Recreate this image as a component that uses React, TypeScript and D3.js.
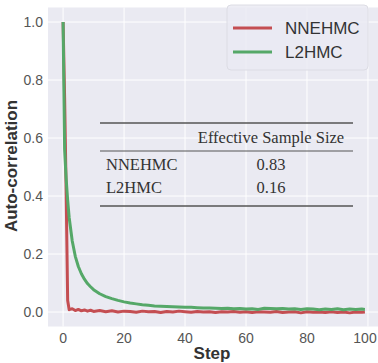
import React from "react";
import * as d3 from "d3";

// autocorrelation estimates per sampler, indexed by step
const steps = [0, 0.5, 1, 1.5, 2, 3, 4, 5, 6, 7, 8, 9, 10, 12, 14, 16, 18, 20, 22, 24, 26, 28, 30, 32, 34, 36, 38, 40, 42, 44, 46, 48, 50, 52, 54, 56, 58, 60, 62, 64, 66, 68, 70, 72, 74, 76, 78, 80, 82, 84, 86, 88, 90, 92, 94, 96, 98, 99];
const nnehmc = [1.0, 0.74, 0.42, 0.04, 0.008, 0.011, 0.005, 0.009, 0.004, 0.007, 0.003, 0.006, 0.002, 0.005, 0.001, 0.004, 0.0, 0.003, 0.002, -0.001, 0.003, 0.001, 0.002, -0.002, 0.002, 0.0, 0.003, 0.001, -0.001, 0.002, 0.0, 0.001, -0.002, 0.001, 0.0, 0.002, -0.001, 0.001, -0.002, 0.001, 0.0, -0.001, 0.002, -0.002, 0.0, 0.001, -0.003, 0.001, -0.001, 0.0, -0.002, 0.001, -0.002, 0.0, -0.003, 0.0, -0.001, 0.0];
const l2hmc = [1.0, 0.56, 0.46, 0.385, 0.325, 0.245, 0.192, 0.157, 0.132, 0.113, 0.098, 0.087, 0.077, 0.063, 0.053, 0.046, 0.04, 0.035, 0.031, 0.028, 0.025, 0.023, 0.021, 0.02, 0.019, 0.018, 0.017, 0.016, 0.016, 0.015, 0.014, 0.014, 0.013, 0.012, 0.013, 0.011, 0.012, 0.01, 0.011, 0.009, 0.013, 0.012, 0.011, 0.012, 0.01, 0.011, 0.009, 0.011, 0.01, 0.008, 0.01, 0.009, 0.011, 0.008, 0.01, 0.009, 0.01, 0.009];

const xTicks = [0, 20, 40, 60, 80, 100];
const yTicks = [0, 0.2, 0.4, 0.6, 0.8, 1.0];

const seriesNames = ["NNEHMC", "L2HMC"];
const seriesColors = ["#C44E52", "#55A868"];
const essValues = ["0.83", "0.16"];

const W = 378;
const H = 363;

export default function App() {
  const x = d3.scaleLinear().domain([-4.95, 103.95]).range([48, 380]);
  const y = d3.scaleLinear().domain([-0.05, 1.05]).range([326.5, 7.5]);

  const line = (vals: number[]) =>
    d3.line<number>()
      .x((_, i) => x(steps[i]))
      .y(d => y(d))(vals) as string;

  const sans = "'Liberation Sans', Arial, sans-serif";
  const serif = "'Liberation Serif', 'Times New Roman', serif";

  // table geometry
  const tL = 100, tR = 353, colC = 271;

  return (
    <svg width={W} height={H} style={{ position: "absolute", left: 0, top: 0 }}>
      <rect width={W} height={H} fill="#fff" />
      <rect x={x.range()[0]} y={y.range()[1]} width={x.range()[1] - x.range()[0]} height={y.range()[0] - y.range()[1]} fill="#EAEAF2" />

      {/* grid */}
      {xTicks.map(t => (
        <line key={"gx" + t} x1={x(t)} x2={x(t)} y1={y.range()[1]} y2={y.range()[0]} stroke="#fff" strokeWidth={1} />
      ))}
      {yTicks.map(t => (
        <line key={"gy" + t} x1={x.range()[0]} x2={x.range()[1]} y1={y(t)} y2={y(t)} stroke="#fff" strokeWidth={1} />
      ))}

      {/* tick labels, last one kept inside the canvas */}
      {xTicks.map(t => (
        <text key={"tx" + t} x={Math.min(x(t), 365)} y={343} textAnchor="middle" fontFamily={sans} fontSize={14} fill="#555">{t}</text>
      ))}
      {yTicks.map(t => (
        <text key={"ty" + t} x={43} y={y(t) + 5} textAnchor="end" fontFamily={sans} fontSize={14} fill="#555">{d3.format(".1f")(t)}</text>
      ))}

      <text x={212} y={359} textAnchor="middle" fontFamily={sans} fontSize={17} fontWeight="bold" fill="#333">Step</text>
      <text transform={`translate(17,${166}) rotate(-90)`} textAnchor="middle" fontFamily={sans} fontSize={17} fontWeight="bold" fill="#333">Auto-correlation</text>

      {/* series: NNEHMC first, L2HMC on top */}
      <path d={line(nnehmc)} fill="none" stroke={seriesColors[0]} strokeWidth={3} strokeLinejoin="round" />
      <path d={line(l2hmc)} fill="none" stroke={seriesColors[1]} strokeWidth={3} strokeLinejoin="round" />

      {/* ESS table */}
      <line x1={tL} x2={tR} y1={123} y2={123} stroke="#555" strokeWidth={1.3} />
      <text x={colC} y={143} textAnchor="middle" fontFamily={serif} fontSize={16.5} fill="#333">Effective Sample Size</text>
      <line x1={tL} x2={tR} y1={151} y2={151} stroke="#555" strokeWidth={1} />
      {seriesNames.map((n, i) => (
        <g key={"row" + n}>
          <text x={106} y={170 + i * 23} fontFamily={serif} fontSize={16.5} fill="#333">{n}</text>
          <text x={colC} y={170 + i * 23} textAnchor="middle" fontFamily={serif} fontSize={16.5} fill="#333">{essValues[i]}</text>
        </g>
      ))}
      <line x1={tL} x2={tR} y1={206} y2={206} stroke="#555" strokeWidth={1.3} />

      {/* legend */}
      <rect x={227} y={5} width={141} height={65} rx={4} fill="#EAEAF2" fillOpacity={0.8} stroke="#dcdce4" strokeWidth={1} />
      {seriesNames.map((n, i) => (
        <g key={"lg" + n}>
          <line x1={233} x2={272} y1={28 + i * 24} y2={28 + i * 24} stroke={seriesColors[i]} strokeWidth={3} />
          <text x={285} y={34 + i * 24} fontFamily={sans} fontSize={17} fill="#333">{n}</text>
        </g>
      ))}
    </svg>
  );
}
